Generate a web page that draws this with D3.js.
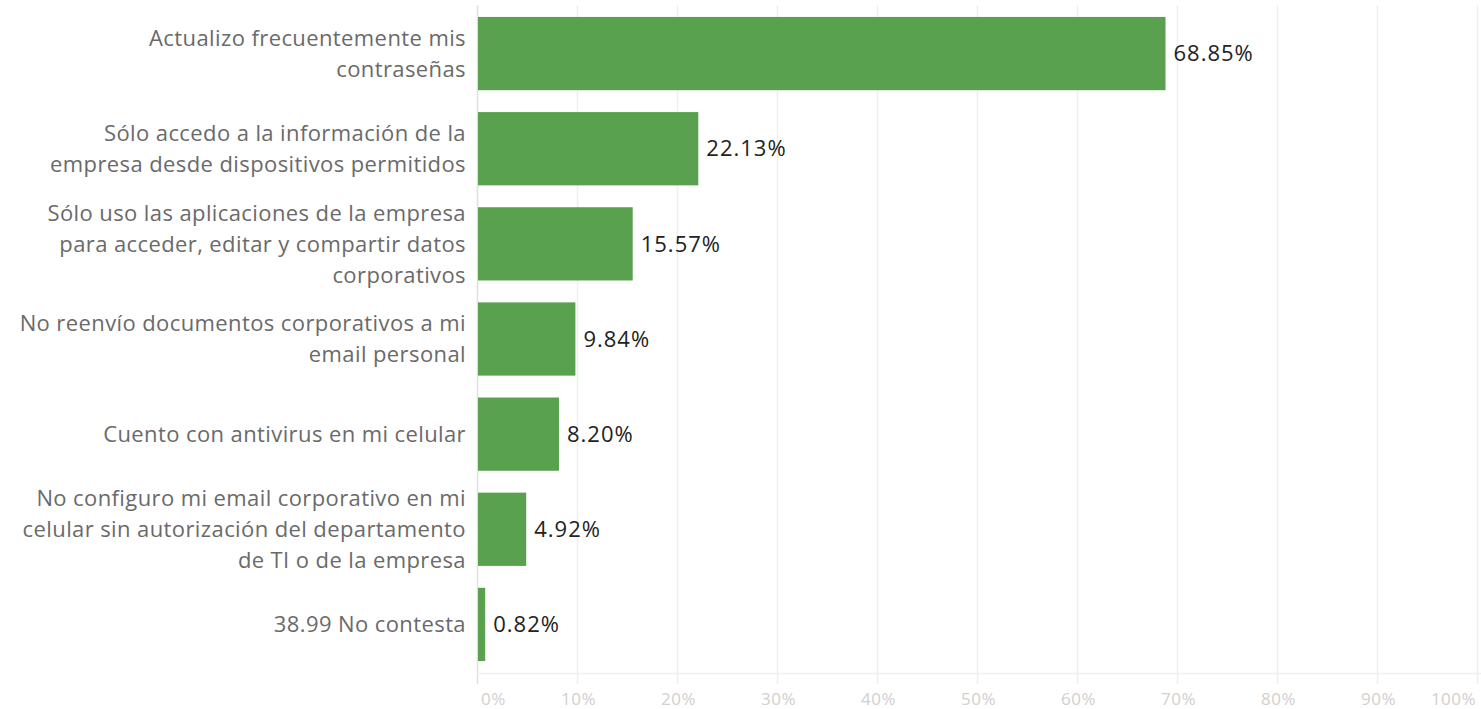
<!DOCTYPE html>
<html><head><meta charset="utf-8">
<script src="https://cdn.jsdelivr.net/npm/d3@7"></script>
<style>body{margin:0;background:#fff;} svg{display:block;}</style>
</head><body><svg id="c" width="1481" height="709"></svg>
<script>
const categories = [
  ["Actualizo frecuentemente mis","contraseñas"],
  ["Sólo accedo a la información de la","empresa desde dispositivos permitidos"],
  ["Sólo uso las aplicaciones de la empresa","para acceder, editar y compartir datos","corporativos"],
  ["No reenvío documentos corporativos a mi","email personal"],
  ["Cuento con antivirus en mi celular"],
  ["No configuro mi email corporativo en mi","celular sin autorización del departamento","de TI o de la empresa"],
  ["38.99 No contesta"]
];
const values = [68.85, 22.13, 15.57, 9.84, 8.20, 4.92, 0.82];
const tickValues = [0,10,20,30,40,50,60,70,80,90,100];

const svg = d3.select("#c");
const x = d3.scaleLinear().domain([0,100]).range([477,1477]);
const y = d3.scaleBand().domain(d3.range(values.length)).range([6,672]).paddingInner(0.23).paddingOuter(0.115);
const font = "'Open Sans', 'Noto Sans', sans-serif";

// gridlines
svg.append("g").selectAll("line").data(tickValues).join("line")
  .attr("x1",d=>x(d)+0.5).attr("x2",d=>x(d)+0.5).attr("y1",5).attr("y2",684)
  .attr("stroke",d=>d===0?"#e0e0e0":"#f0f0f0").attr("stroke-width",1.5);
svg.append("line").attr("x1",477).attr("x2",1481).attr("y1",673.5).attr("y2",673.5)
  .attr("stroke","#f0f0f0").attr("stroke-width",1.5);

// axis labels
const axis = d3.axisBottom(x).tickValues(tickValues).tickFormat(d=>d+"%").tickSize(0);
const ag = svg.append("g").attr("transform","translate(0,690)").call(axis);
ag.select(".domain").remove();
ag.selectAll("text").attr("fill","#d0d0d0").attr("font-size",17).attr("letter-spacing",0.5).attr("font-family",font)
  .attr("dy","0.71em").attr("dx",d=>d===0?16:(d===100?-24:1));

// bars
svg.append("g").selectAll("rect").data(values).join("rect")
  .attr("x",x(0)+1).attr("y",(d,i)=>y(i)).attr("width",d=>x(d)-x(0)-1).attr("height",y.bandwidth())
  .attr("fill","#59a14f");

// value labels
svg.append("g").selectAll("text").data(values).join("text")
  .attr("x",d=>x(d)+8).attr("y",(d,i)=>y(i)+y.bandwidth()/2).attr("dy","0.35em")
  .attr("font-size",22).attr("letter-spacing",1).attr("font-family",font).attr("fill","#222")
  .text(d=>d.toFixed(2)+"%");

// category labels
const lh = 31;
const cg = svg.append("g").selectAll("text").data(categories).join("text")
  .attr("text-anchor","end").attr("font-size",22).attr("letter-spacing",0.4).attr("font-family",font).attr("fill","#6a6a6a")
  .attr("x",466)
  .attr("y",(d,i)=>y(i)+y.bandwidth()/2 - (d.length-1)*lh/2);
cg.selectAll("tspan").data(d=>d).join("tspan")
  .attr("x",466).attr("dy",(d,j)=>j===0?"0.35em":lh).text(d=>d);
</script></body></html>
